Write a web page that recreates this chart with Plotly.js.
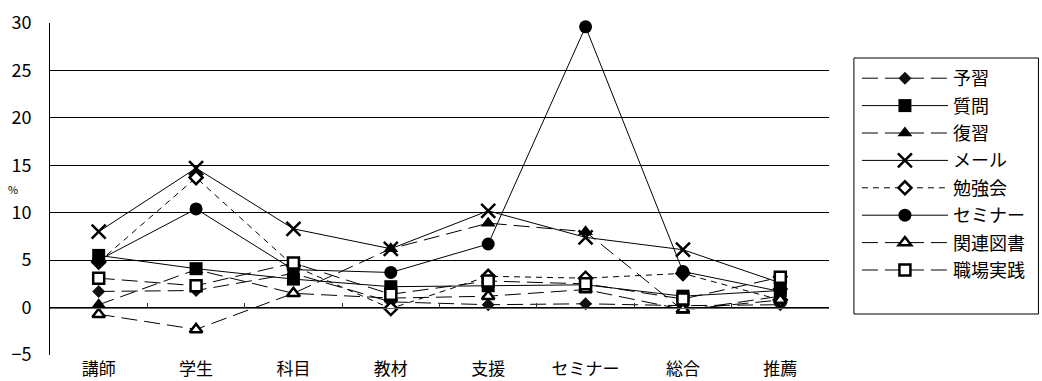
<!DOCTYPE html>
<html>
<head>
<meta charset="utf-8">
<script src="https://cdn.plot.ly/plotly-3.0.1.min.js"></script>
<style>
  html, body { margin: 0; padding: 0; background: #fff; }
  #chart { width: 1042px; height: 381px; }
</style>
</head>
<body>
<div id="chart"></div>
<script>
// 区分
const categories = ['講師', '学生', '科目', '教材', '支援', 'セミナー', '総合', '推薦'];

// 各項目の割合 (%)
const yoshu     = [1.7, 1.8, 3.6, 0.6, 0.3, 0.4, 0.2, 0.3];   // 予習
const shitsumon = [5.5, 4.1, 3.0, 2.2, 2.3, 2.4, 1.2, 1.8];   // 質問
const fukushu   = [0.3, 4.0, 1.5, 6.2, 8.9, 8.0, -0.3, 1.2];  // 復習
const mail      = [8.0, 14.7, 8.3, 6.2, 10.2, 7.4, 6.1, 2.6]; // メール
const benkyokai = [4.8, 13.7, 4.4, -0.1, 3.3, 3.1, 3.6, 0.8]; // 勉強会
const seminar   = [5.0, 10.4, 4.0, 3.7, 6.7, 29.6, 3.8, 1.7]; // セミナー
const kanren     = [-0.7, -2.3, 1.5, 1.0, 1.2, 1.9, -0.2, 0.8]; // 関連図書
const shokuba    = [3.1, 2.3, 4.7, 1.4, 2.8, 2.5, 0.9, 3.2];   // 職場実践

const seriesNames = ['予習', '質問', '復習', 'メール', '勉強会', 'セミナー', '関連図書', '職場実践'];
const seriesData  = [yoshu, shitsumon, fukushu, mail, benkyokai, seminar, kanren, shokuba];

// 線種とマーカー
const LONG = '16px,7px';
const SHORT = '6px,5px';
const styles = [
  { dash: LONG,    symbol: 'diamond',      size: 10, color: '#111', lw: 0 },
  { dash: 'solid', symbol: 'square',       size: 13, color: '#000', lw: 0 },
  { dash: LONG,    symbol: 'triangle-up',  size: 13, color: '#000', lw: 0 },
  { dash: 'solid', symbol: 'x-thin-open',  size: 14, color: '#000', lw: 2.5 },
  { dash: SHORT,   symbol: 'diamond',      size: 10, color: '#fff', lw: 2.5 },
  { dash: 'solid', symbol: 'circle',       size: 13, color: '#000', lw: 0 },
  { dash: LONG,    symbol: 'triangle-up',  size: 11, color: '#fff', lw: 2.5 },
  { dash: LONG,    symbol: 'square',       size: 11, color: '#fff', lw: 2.5 }
];

const traces = seriesData.map((vals, i) => ({
  type: 'scatter',
  mode: 'lines+markers',
  name: seriesNames[i],
  legendgroup: 'g' + i,
  x: categories,
  y: vals,
  line: { color: '#000', width: 1, dash: styles[i].dash },
  marker: {
    symbol: styles[i].symbol,
    size: styles[i].size,
    color: styles[i].color,
    line: { color: '#000', width: styles[i].lw }
  },
  cliponaxis: false
}));

// 0 の位置の横軸（目盛り線のみ）
traces.push({
  type: 'scatter', mode: 'lines',
  x: [-0.5, 7.5], y: [null, null],
  xaxis: 'x2', yaxis: 'y',
  showlegend: false, hoverinfo: 'skip'
});

const yMin = -5, yMax = 30;

// 凡例枠（ピクセル → paper 座標）
const plotL = 50, plotW = 781, plotB = 355, plotH = 332;
const px = v => (v - plotL) / plotW;
const py = v => (plotB - v) / plotH;

const layout = {
  width: 1042,
  height: 381,
  margin: { l: 50, r: 211, t: 23, b: 26, pad: 0 },
  paper_bgcolor: '#fff',
  plot_bgcolor: '#fff',
  font: { family: '"Noto Sans CJK JP", "Noto Sans", sans-serif', color: '#000', size: 16 },
  showlegend: true,
  xaxis: {
    type: 'category',
    categoryorder: 'array',
    categoryarray: categories,
    range: [-0.5, 7.5],
    showgrid: false,
    zeroline: false,
    showline: false,
    ticks: '',
    ticklabelstandoff: 2,
    tickfont: { size: 17 },
    fixedrange: true
  },
  xaxis2: {
    overlaying: 'x',
    anchor: 'free',
    position: (0 - yMin) / (yMax - yMin),
    range: [-0.5, 7.5],
    tickmode: 'linear',
    tick0: -0.5,
    dtick: 1,
    showgrid: false,
    zeroline: false,
    showline: true,
    linecolor: '#666',
    linewidth: 1,
    ticks: 'inside',
    ticklen: 5,
    tickcolor: '#333',
    tickwidth: 1,
    showticklabels: false,
    fixedrange: true
  },
  yaxis: {
    range: [yMin, yMax],
    tickmode: 'linear',
    tick0: -5,
    dtick: 5,
    showgrid: true,
    gridcolor: '#000',
    gridwidth: 1,
    zeroline: false,
    showline: true,
    linecolor: '#000',
    linewidth: 1,
    ticks: '',
    ticklabelstandoff: 14,
    tickfont: { size: 18 },
    fixedrange: true
  },
  legend: {
    x: px(859),
    xanchor: 'left',
    y: py(60),
    yanchor: 'top',
    bgcolor: 'rgba(0,0,0,0)',
    borderwidth: 0,
    traceorder: 'grouped',
    tracegroupgap: 1,
    itemwidth: 86,
    font: { size: 18 }
  },
  shapes: [{
    type: 'rect',
    xref: 'paper', yref: 'paper',
    x0: px(856), x1: px(1041),
    y0: py(314), y1: py(58),
    line: { color: '#000', width: 1 },
    fillcolor: 'rgba(0,0,0,0)',
    layer: 'below'
  }],
  annotations: [{
    text: '%',
    xref: 'paper', yref: 'paper',
    x: px(13), y: py(189),
    xanchor: 'center', yanchor: 'middle',
    showarrow: false,
    font: { size: 11 }
  }]
};

Plotly.newPlot('chart', traces, layout, { displayModeBar: false, staticPlot: true });
</script>
</body>
</html>
